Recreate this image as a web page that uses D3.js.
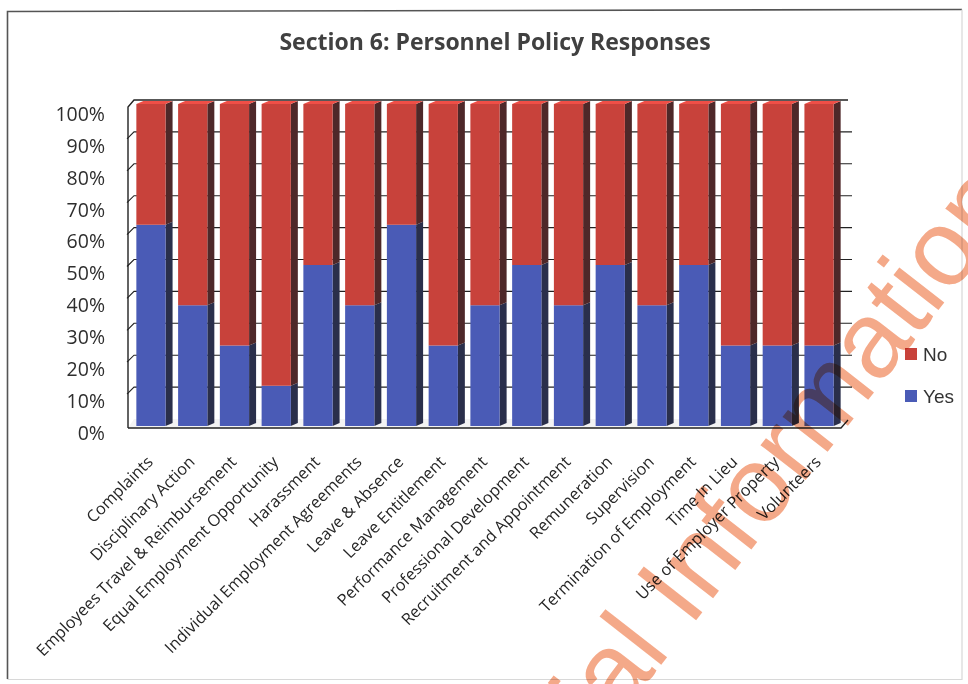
<!DOCTYPE html>
<html>
<head>
<meta charset="utf-8">
<script src="https://cdn.jsdelivr.net/npm/d3@7"></script>
<style>
  html, body { margin: 0; padding: 0; background: #fff; }
  svg { display: block; }
</style>
</head>
<body>
<svg id="chart" width="968" height="684"></svg>
<script>
// Policy areas and share of responses (percent)
const categories = [
  "Complaints", "Disciplinary Action", "Employees Travel & Reimbursement",
  "Equal Employment Opportunity", "Harassment", "Individual Employment Agreements",
  "Leave & Absence", "Leave Entitlement", "Performance Management",
  "Professional Development", "Recruitment and Appointment", "Remuneration",
  "Supervision", "Termination of Employment", "Time In Lieu",
  "Use of Employer Property", "Volunteers"
];
const yesValues = [62.5, 37.5, 25, 12.5, 50, 37.5, 62.5, 25, 37.5, 50, 37.5, 50, 37.5, 50, 25, 25, 25];
const noValues  = [37.5, 62.5, 75, 87.5, 50, 62.5, 37.5, 75, 62.5, 50, 62.5, 50, 62.5, 50, 75, 75, 75];
const seriesKeys = ["Yes", "No"];
const seriesColors = ["#4a5bb6", "#c8423b"];
const yTickValues = [0, 10, 20, 30, 40, 50, 60, 70, 80, 90, 100];
const titleText = "Section 6: Personnel Policy Responses";
const stampText = "Official Information";

const svg = d3.select("#chart");
const W = 968, H = 684;

svg.append("rect").attr("width", W).attr("height", H).attr("fill", "#ffffff");

// Table built from the arrays above
const rows = categories.map((c, i) => ({ category: c, Yes: yesValues[i], No: noValues[i] }));
const stacked = d3.stack().keys(seriesKeys)(rows);

// Scales: front plane for the bars, back wall for the gridlines
const x = d3.scaleBand().domain(categories).range([128, 842]).paddingInner(0.3).paddingOuter(0.2);
const yFront = d3.scaleLinear().domain([0, 100]).range([426, 104]);
const yBack = d3.scaleLinear().domain([0, 100]).range([419, 100]);
const color = d3.scaleOrdinal().domain(seriesKeys).range(seriesColors);

const wallLeft = 128, wallDepthX = 6, wallRight = 848;
const barDX = 7, barDY = 3;

// Floor
svg.append("path")
  .attr("d", `M${wallLeft},${yFront(0) + 2} L${wallLeft + wallDepthX},${yBack(0)} L${wallRight},${yBack(0)} L${wallRight - 7},${yFront(0) + 2} Z`)
  .attr("fill", "#f3f3f3").attr("stroke", "none");

// Back-wall gridlines and the slanted ticks on the left wall
const grid = svg.append("g").attr("stroke", "#222").attr("stroke-width", 1.1).attr("fill", "none");
yTickValues.forEach(v => {
  if (v > 0 && v < 100) {
    grid.append("path")
      .attr("d", `M${wallLeft - 1},${yBack(v) + 7} L${wallLeft + wallDepthX},${yBack(v)} L${wallRight + 4},${yBack(v)}`);
  }
});
// Left wall edge, top edge
grid.append("path")
  .attr("d", `M${wallLeft},${yFront(0) + 2} L${wallLeft},${yBack(100) + 7} L${wallLeft + wallDepthX},${yBack(100)} L${wallRight},${yBack(100)}`)
  .attr("stroke-width", 1.4);

// Bars: front face, dark side face and light top face
const barsG = svg.append("g");
stacked.forEach((layer, li) => {
  const key = layer.key;
  const base = d3.color(color(key));
  const side = d3.interpolateRgb(base.formatHex(), "#1e1e22")(0.72);
  layer.forEach((d, i) => {
    const cat = categories[i];
    const x0 = x(cat), x1 = x0 + x.bandwidth();
    const yT = yFront(d[1]), yB = yFront(d[0]);
    const g = barsG.append("g");
    g.append("path")
      .attr("d", `M${x1},${yT} L${x1 + barDX},${yT - barDY} L${x1 + barDX},${yB - barDY} L${x1},${yB} Z`)
      .attr("fill", side);
    g.append("rect")
      .attr("x", x0).attr("y", yT)
      .attr("width", x.bandwidth()).attr("height", yB - yT)
      .attr("fill", base.formatHex());
    if (li === stacked.length - 1) {
      g.append("path")
        .attr("d", `M${x0},${yT} L${x0 + barDX},${yT - barDY} L${x1 + barDX},${yT - barDY} L${x1},${yT} Z`)
        .attr("fill", base.brighter(0.5).formatHex());
    }
  });
});

// Floor front edge drawn over the bar bases
svg.append("path")
  .attr("d", `M${wallLeft},${yFront(0) + 2} L${wallRight - 7},${yFront(0) + 2} L${wallRight},${yBack(0) + 1}`)
  .attr("fill", "none").attr("stroke", "#222").attr("stroke-width", 1.3);

// Y axis labels
const yLab = svg.append("g")
  .attr("font-family", "'Open Sans', sans-serif").attr("font-size", 19.5).attr("fill", "#2e2e2e")
  .attr("text-anchor", "end");
yTickValues.forEach(v => {
  yLab.append("text")
    .attr("x", 105).attr("y", yBack(v) + 14)
    .attr("dy", "0.35em")
    .text(v + "%");
});

// Category labels, rotated
const xLab = svg.append("g")
  .attr("font-family", "'Open Sans', sans-serif").attr("font-size", 16.3).attr("fill", "#262626")
  .attr("text-anchor", "end");
categories.forEach(c => {
  const cx = x(c) + x.bandwidth() / 2;
  xLab.append("text")
    .attr("transform", `translate(${cx + 3},${463}) rotate(-45)`)
    .text(c);
});

// Legend
const legend = svg.append("g")
  .attr("font-family", "'Liberation Sans', Arial, sans-serif").attr("font-size", 19).attr("fill", "#333");
[["No", 354], ["Yes", 396]].forEach(([k, yy]) => {
  legend.append("rect").attr("x", 905).attr("y", yy - 6).attr("width", 12).attr("height", 12)
    .attr("fill", color(k));
  legend.append("text").attr("x", 923).attr("y", yy).attr("dy", "0.35em").text(k);
});

// Title
svg.append("text")
  .attr("x", 495).attr("y", 50)
  .attr("text-anchor", "middle")
  .attr("font-family", "'Open Sans', sans-serif").attr("font-weight", 700)
  .attr("font-size", 23).attr("fill", "#404040")
  .text(titleText);

// Outer frame
svg.append("path")
  .attr("d", "M7.5,679 L7.5,11.5 L962,9.5")
  .attr("fill", "none").attr("stroke", "#555").attr("stroke-width", 1.6);
svg.append("path")
  .attr("d", "M7.5,679.5 L962,679.5 L962,9.5")
  .attr("fill", "none").attr("stroke", "#d8d8d8").attr("stroke-width", 1.2);

// Diagonal stamp text, positioned by the start of its second word
const stampFamily = "'Liberation Sans', Arial, sans-serif";
const stampSize = 108;
const measure = str => {
  const t = svg.append("text").attr("font-family", stampFamily).attr("font-size", stampSize).text(str);
  const w = t.node().getComputedTextLength();
  t.remove();
  return w;
};
const lead = measure(stampText) - measure(stampText.split(" ").slice(1).join(" "));
svg.append("text")
  .attr("transform", `translate(690,628) rotate(-52)`)
  .attr("x", -lead)
  .attr("font-family", stampFamily).attr("font-size", stampSize)
  .attr("fill", "#f39a74").attr("opacity", 0.85)
  .style("mix-blend-mode", "multiply")
  .text(stampText);
</script>
</body>
</html>
